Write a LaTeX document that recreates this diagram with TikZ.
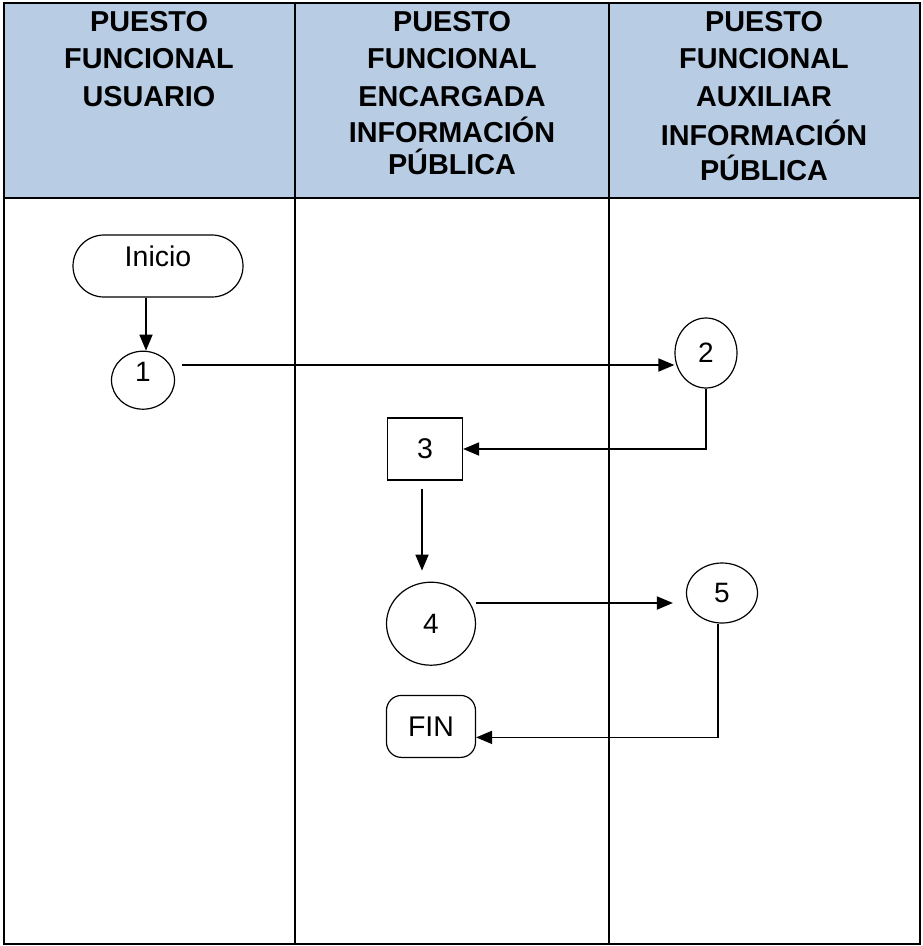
\documentclass[tikz,border=0pt]{standalone}
\usepackage{fontspec}
\setmainfont{Liberation Sans}
\usepackage{tikz}
\usetikzlibrary{positioning,arrows.meta,shapes.geometric}
\definecolor{laneblue}{RGB}{184,204,228}

\begin{document}
\begin{tikzpicture}[
    x=1pt, y=-1pt,
    node distance=50pt and 50pt,
    lane_head/.style={anchor=north, align=center, inner sep=0pt, font=\fontsize{28.8}{37.5}\selectfont\bfseries},
    lane_line/.style={line width=2pt},
    flow_circle/.style={draw=black, ellipse, line width=1.2pt, inner sep=0pt, font=\fontsize{28}{32}\selectfont},
    flow_box/.style={draw=black, rectangle, line width=1.2pt, inner sep=0pt, font=\fontsize{28.5}{32}\selectfont},
    flow_arrow/.style={line width=1.8pt, -{Triangle[length=16pt,width=13pt]}}
]

\useasboundingbox (0,0) rectangle (922,946);

% Lanes
\fill[laneblue] (4,3) rectangle (920,198);
\draw[lane_line] (4,3) rectangle (920,944);
\draw[lane_line] (4,198) -- (920,198);
\draw[lane_line] (295,3) -- (295,944);
\draw[lane_line] (609,3) -- (609,944);

% Lane headers
\node[lane_head] (H1) at (149,11) {PUESTO\\FUNCIONAL\\USUARIO};
\node[lane_head] (H2) at (452,11) {PUESTO\\FUNCIONAL\\ENCARGADA\\[-1.5pt]INFORMACIÓN\\[-5.5pt]PÚBLICA};
\node[lane_head] (H3) at (764,11) {PUESTO\\FUNCIONAL\\AUXILIAR\\[2pt]INFORMACIÓN\\[-2.5pt]PÚBLICA};

% Steps
\node[flow_box, rounded corners=31pt, minimum width=170pt, minimum height=62pt, text depth=19pt] (inicio) at (158,266) {Inicio};
\node[flow_circle, below=53pt of inicio, xshift=-15pt, minimum width=63pt, minimum height=58pt, text depth=16pt] (S1) {1};
\node[flow_circle, minimum width=62pt, minimum height=70pt] (S2) at (706,353) {2};
\node[flow_box, minimum width=75pt, minimum height=62pt] (S3) at (425,449) {3};
\node[flow_circle, below=101pt of S3, xshift=6pt, minimum width=89pt, minimum height=83pt] (S4) {4};
\node[flow_circle, minimum width=71pt, minimum height=60pt] (S5) at (722,593) {5};
\node[flow_box, below=29pt of S4, rounded corners=15pt, minimum width=89pt, minimum height=62pt] (fin) {FIN};

% Entry points
\coordinate (S2in) at ([yshift=-12pt]S2.west);
\coordinate (S5in) at ([yshift=-10pt]S5.west);
\coordinate (finin) at ([yshift=-11pt]fin.east);

% Flow
\draw[flow_arrow] ([xshift=3pt]S1.north |- inicio.south) -- ([xshift=3pt]S1.north);
\draw[flow_arrow, shorten <=7pt] (S1.east |- S2in) -- (S2in);
\draw[flow_arrow] (S2.south) |- (S3.east);
\draw[flow_arrow, shorten <=8pt, shorten >=11pt] ([xshift=-3pt]S3.south) -- ([xshift=-3pt]S3.south |- S4.north);
\draw[flow_arrow, shorten >=13pt] (S4.east |- S5in) -- (S5in);
\draw[flow_arrow] ([xshift=-4pt]S5.south) |- (finin);

\end{tikzpicture}
\end{document}
